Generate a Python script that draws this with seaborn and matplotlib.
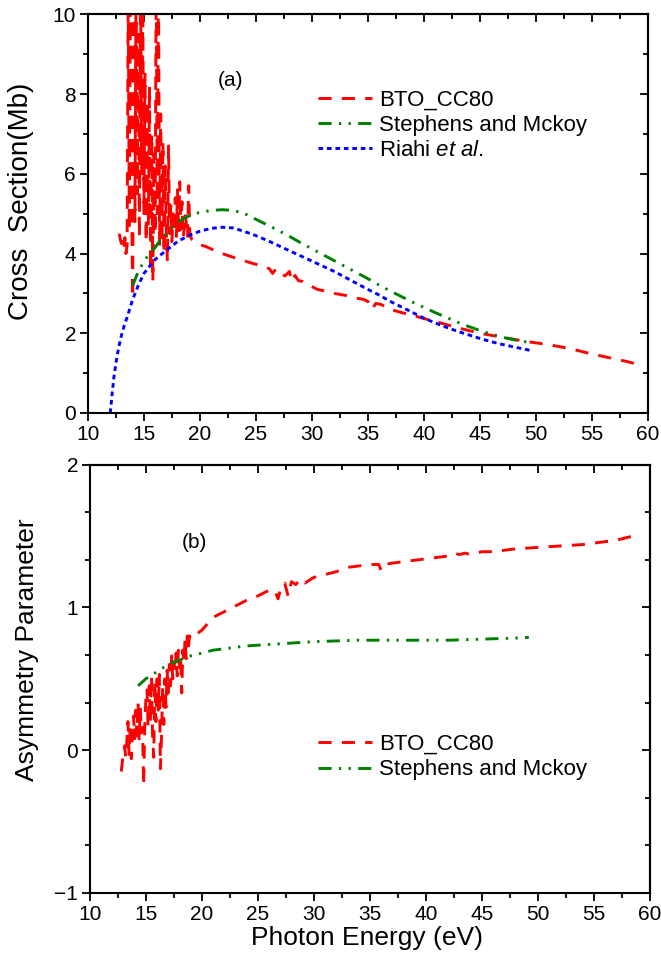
import numpy as np
import pandas as pd
import matplotlib
matplotlib.use("Agg")
import matplotlib.pyplot as plt
from matplotlib.ticker import MultipleLocator
import seaborn as sns

# ---------------- data ----------------
# (a) cross section, BTO_CC80 (resonant region, then smooth tail)
cs_bto_e = [12.8, 12.9, 13.0, 13.1, 13.2, 13.3, 13.4, 13.5, 13.6, 13.7,
            13.8, 13.9, 14.0, 14.1, 14.2, 14.3, 14.4, 14.5, 14.6, 14.7,
            14.8, 14.9, 15.0, 15.1, 15.2, 15.3, 15.4, 15.5, 15.6, 15.7,
            15.8, 15.9, 16.0, 16.1, 16.2, 16.3, 16.4, 16.5, 16.6, 16.7,
            16.8, 16.9, 17.0, 17.1, 17.2, 17.3, 17.4, 17.5, 17.6, 17.7,
            17.8, 17.9, 18.0, 18.1, 18.2, 18.3, 18.4, 18.5, 18.6, 18.7,
            18.8, 18.9, 19.0, 19.1, 19.2, 19.3, 19.5, 20.0, 20.5, 21.5,
            22.5, 23.5, 24.5, 25.5, 26.2, 26.5, 26.8, 27.2, 27.6, 28.0,
            28.2, 28.5, 28.8, 29.2, 29.8, 30.5, 31.0, 32.0, 33.0, 34.0,
            34.6, 35.0, 35.4, 35.7, 36.2, 37.0, 38.0, 39.0, 40.0, 41.0,
            42.0, 43.0, 44.0, 45.0, 46.0, 47.0, 48.0, 49.0, 50.0, 51.0,
            52.0, 53.0, 54.0, 55.0, 56.0, 57.0, 58.0, 59.0]
cs_bto = [4.5, 4.35, 4.25, 4.3, 4.1, 4.4, 4.0, 4.2, 10.5, 4.6,
          11.0, 5.2, 2.9, 10.8, 4.8, 11.0, 5.5, 9.5, 4.4, 11.0,
          6.0, 10.2, 5.0, 8.5, 4.3, 7.8, 4.7, 8.2, 3.6, 7.0,
          3.3, 6.5, 4.5, 11.0, 5.0, 11.0, 4.2, 7.5, 4.3, 6.8,
          4.0, 6.2, 4.6, 3.8, 6.7, 4.5, 5.2, 4.3, 5.0, 4.6,
          5.4, 4.4, 5.6, 4.5, 5.8, 4.6, 5.3, 4.4, 4.6, 5.0,
          4.7, 4.4, 5.7, 4.5, 4.4, 4.35, 4.3, 4.22, 4.18, 4.05,
          3.95, 3.86, 3.77, 3.69, 3.62, 3.5, 3.62, 3.5, 3.44, 3.55,
          3.3, 3.45, 3.32, 3.3, 3.2, 3.1, 3.07, 3.0, 2.95, 2.88,
          2.85, 2.8, 2.6, 2.75, 2.72, 2.6, 2.52, 2.45, 2.37, 2.3,
          2.22, 2.14, 2.07, 2.0, 1.95, 1.9, 1.85, 1.8, 1.76, 1.72,
          1.67, 1.62, 1.55, 1.48, 1.42, 1.36, 1.3, 1.23]

# (a) cross section, Stephens and Mckoy
cs_sm_e = [14.0, 14.5, 15.0, 15.5, 16.0, 16.5, 17.0, 17.5, 18.0, 18.5,
           19.0, 19.5, 20.0, 21.0, 22.0, 23.0, 24.0, 25.0, 26.0, 27.0,
           28.0, 29.0, 30.0, 31.0, 32.0, 33.0, 34.0, 35.0, 36.0, 37.0,
           38.0, 39.0, 40.0, 41.0, 42.0, 43.0, 44.0, 45.0, 46.0, 47.0,
           48.0, 49.0, 49.5]
cs_sm = [3.2, 3.55, 3.8, 4.0, 4.15, 4.35, 4.5, 4.65, 4.77, 4.87,
         4.94, 5.0, 5.03, 5.08, 5.1, 5.08, 5.0, 4.86, 4.72, 4.58,
         4.43, 4.27, 4.12, 3.97, 3.82, 3.67, 3.52, 3.37, 3.21, 3.06,
         2.92, 2.78, 2.65, 2.52, 2.4, 2.28, 2.17, 2.07, 1.98, 1.9,
         1.84, 1.79, 1.76]

# (a) cross section, Riahi et al.
cs_ri_e = [12.0, 12.15, 12.3, 12.5, 12.75, 13.0, 13.25, 13.5, 14.0, 14.5,
           15.0, 16.0, 17.0, 18.0, 19.0, 20.0, 21.0, 22.0, 23.0, 24.0,
           25.0, 26.0, 27.0, 28.0, 29.0, 30.0, 31.0, 32.0, 33.0, 34.0,
           35.0, 36.0, 37.0, 38.0, 39.0, 40.0, 41.0, 42.0, 43.0, 44.0,
           45.0, 46.0, 47.0, 48.0, 49.0, 49.5]
cs_ri = [0.0, 0.45, 0.85, 1.25, 1.65, 1.95, 2.2, 2.4, 2.85, 3.2,
         3.5, 3.85, 4.08, 4.3, 4.45, 4.56, 4.63, 4.66, 4.64, 4.55,
         4.45, 4.33, 4.2, 4.07, 3.94, 3.81, 3.68, 3.55, 3.4, 3.25,
         3.1, 2.96, 2.8, 2.66, 2.52, 2.38, 2.26, 2.15, 2.05, 1.96,
         1.87, 1.79, 1.72, 1.66, 1.6, 1.57]

# (b) asymmetry parameter, BTO_CC80
beta_bto_e = [12.8, 12.9, 13.0, 13.1, 13.2, 13.3, 13.4, 13.5, 13.6, 13.7,
              13.8, 13.9, 14.0, 14.1, 14.2, 14.3, 14.4, 14.5, 14.6, 14.7,
              14.8, 14.9, 15.0, 15.1, 15.2, 15.3, 15.4, 15.5, 15.6, 15.7,
              15.8, 15.9, 16.0, 16.1, 16.2, 16.3, 16.4, 16.5, 16.6, 16.7,
              16.8, 16.9, 17.0, 17.1, 17.2, 17.3, 17.4, 17.5, 17.6, 17.7,
              17.8, 17.9, 18.0, 18.1, 18.2, 18.3, 18.4, 18.5, 18.6, 18.7,
              18.8, 18.9, 19.0, 19.3, 20.0, 21.0, 22.0, 23.0, 24.0, 25.0,
              26.0, 26.5, 26.8, 27.1, 27.4, 27.7, 28.0, 28.4, 28.8, 29.2,
              29.6, 30.0, 31.0, 32.0, 33.0, 34.0, 35.0, 35.8, 36.0, 36.3,
              37.0, 38.0, 39.0, 40.0, 41.0, 42.0, 42.5, 43.0, 43.5, 44.0,
              44.5, 45.0, 46.0, 47.0, 48.0, 50.0, 52.0, 54.0, 55.0, 56.0,
              57.0, 58.0, 59.0]
beta_bto = [-0.15, -0.08, -0.02, 0.03, -0.05, 0.06, 0.2, -0.03, 0.18, -0.06,
            0.12, 0.24, 0.08, 0.28, 0.1, 0.34, 0.07, 0.3, 0.12, 0.16,
            -0.25, 0.18, 0.36, 0.43, 0.16, 0.45, 0.2, 0.52, 0.1, -0.05,
            0.48, 0.2, 0.5, 0.28, 0.53, -0.13, 0.1, 0.45, 0.18, 0.5,
            0.3, 0.56, 0.4, 0.6, 0.45, 0.66, 0.5, 0.62, 0.55, 0.68,
            0.52, 0.7, 0.58, 0.66, 0.4, 0.7, 0.62, 0.78, 0.64, 0.8,
            0.72, 0.8, 0.78, 0.8, 0.84, 0.93, 0.97, 1.01, 1.05, 1.08,
            1.12, 1.12, 1.06, 1.15, 1.17, 1.08, 1.18, 1.16, 1.2, 1.17,
            1.19, 1.21, 1.23, 1.25, 1.28, 1.29, 1.3, 1.3, 1.26, 1.3,
            1.31, 1.32, 1.33, 1.34, 1.35, 1.36, 1.38, 1.37, 1.38, 1.37,
            1.38, 1.39, 1.39, 1.4, 1.41, 1.42, 1.43, 1.44, 1.45, 1.46,
            1.47, 1.49, 1.51]

# (b) asymmetry parameter, Stephens and Mckoy
beta_sm_e = [14.3, 15.0, 16.0, 17.0, 18.0, 19.0, 20.0, 21.0, 22.0, 23.0,
             24.0, 26.0, 28.0, 30.0, 32.0, 34.0, 36.0, 38.0, 40.0, 42.0,
             44.0, 46.0, 48.0, 49.2]
beta_sm = [0.45, 0.5, 0.55, 0.6, 0.63, 0.66, 0.68, 0.7, 0.71, 0.72,
           0.73, 0.74, 0.75, 0.76, 0.765, 0.77, 0.77, 0.77, 0.77, 0.77,
           0.775, 0.78, 0.785, 0.79]

x_ticks = [10, 15, 20, 25, 30, 35, 40, 45, 50, 55, 60]
cs_ticks = [0, 2, 4, 6, 8, 10]
beta_ticks = [-1, 0, 1, 2]

# ---------------- style ----------------
sns.set_style("ticks")
plt.rcParams["font.family"] = ["Liberation Sans", "DejaVu Sans"]
plt.rcParams["mathtext.fontset"] = "custom"
plt.rcParams["mathtext.rm"] = "Liberation Sans"
plt.rcParams["mathtext.it"] = "Liberation Sans:italic"
plt.rcParams["axes.linewidth"] = 1.5
for key in ("text.color", "axes.labelcolor", "axes.edgecolor",
            "xtick.color", "ytick.color"):
    plt.rcParams[key] = "black"

RED, GREEN, BLUE = "#ff0000", "#008000", "#0000ff"
LS_RED = (0, (4.5, 3.5))
LS_GREEN = (0, (4.5, 2.5, 0.8, 2.5, 0.8, 2.5))
LS_BLUE = (0, (1.6, 1.3))
LW = 2.1
TICK_FS = 15

fig = plt.figure(figsize=(6.61, 9.56), dpi=100)
ax1 = fig.add_axes([0.133, 0.568, 0.847, 0.417])
ax2 = fig.add_axes([0.136, 0.066, 0.847, 0.448])


def line(ax, x, y, color, ls, label):
    df = pd.DataFrame({"E": x, "v": y})
    sns.lineplot(data=df, x="E", y="v", ax=ax, color=color, lw=LW,
                 linestyle=ls, label=label, estimator=None, errorbar=None,
                 sort=False)


def frame(ax, yticks, ymin_step):
    ax.set_xlim(10, 60)
    ax.set_xticks(x_ticks)
    ax.xaxis.set_minor_locator(MultipleLocator(2.5))
    ax.set_yticks(yticks)
    ax.yaxis.set_minor_locator(MultipleLocator(ymin_step))
    ax.tick_params(which="both", direction="out", top=False, right=False,
                   labelsize=TICK_FS, width=1.3, pad=2.5, colors="black")
    ax.tick_params(which="major", length=6)
    ax.tick_params(which="minor", length=3.5)
    top = ax.secondary_xaxis("top")
    top.set_xticks(x_ticks)
    top.xaxis.set_minor_locator(MultipleLocator(2.5))
    top.tick_params(which="both", direction="in", labeltop=False, width=1.3,
                    colors="black")
    top.tick_params(which="major", length=6)
    top.tick_params(which="minor", length=3.5)
    right = ax.secondary_yaxis("right")
    right.set_yticks(yticks)
    right.yaxis.set_minor_locator(MultipleLocator(ymin_step))
    right.tick_params(which="both", direction="in", labelright=False,
                      width=1.3, colors="black")
    right.tick_params(which="major", length=6)
    right.tick_params(which="minor", length=3.5)
    for axis in (ax, top, right):
        for sp in axis.spines.values():
            sp.set_linewidth(1.5)
            sp.set_edgecolor("black")


# ---------------- (a) cross section ----------------
line(ax1, cs_bto_e, cs_bto, RED, LS_RED, "BTO_CC80")
line(ax1, cs_sm_e, cs_sm, GREEN, LS_GREEN, "Stephens and Mckoy")
line(ax1, cs_ri_e, cs_ri, BLUE, LS_BLUE, r"Riahi $\mathit{et\ al.}$")
ax1.set_ylim(0, 10)
frame(ax1, cs_ticks, 1)
ax1.set_xlabel("")
ax1.set_ylabel("Cross  Section(Mb)", fontsize=20)
ax1.yaxis.label.set_verticalalignment("center")
ax1.yaxis.set_label_coords(-0.12, 0.53)
ax1.text(0.254, 0.835, "(a)", transform=ax1.transAxes, fontsize=15,
         ha="center", va="center")
ax1.legend(loc="upper left", bbox_to_anchor=(0.411, 0.812), frameon=False,
           fontsize=16, handlelength=2.45, handletextpad=0.3,
           labelspacing=0.2, borderpad=0, borderaxespad=0)

# ---------------- (b) asymmetry parameter ----------------
line(ax2, beta_bto_e, beta_bto, RED, LS_RED, "BTO_CC80")
line(ax2, beta_sm_e, beta_sm, GREEN, LS_GREEN, "Stephens and Mckoy")
ax2.set_ylim(-1, 2)
frame(ax2, beta_ticks, 1 / 3)
ax2.set_xlabel("Photon Energy (eV)", fontsize=19)
ax2.xaxis.label.set_verticalalignment("center")
ax2.xaxis.set_label_coords(0.495, -0.105)
ax2.set_ylabel("Asymmetry Parameter", fontsize=19)
ax2.yaxis.label.set_verticalalignment("center")
ax2.yaxis.set_label_coords(-0.113, 0.568)
ax2.text(0.1875, 0.818, "(b)", transform=ax2.transAxes, fontsize=15,
         ha="center", va="center")
ax2.legend(loc="upper left", bbox_to_anchor=(0.407, 0.371), frameon=False,
           fontsize=16, handlelength=2.45, handletextpad=0.3,
           labelspacing=0.2, borderpad=0, borderaxespad=0)

fig.savefig("out.png", dpi=100)
